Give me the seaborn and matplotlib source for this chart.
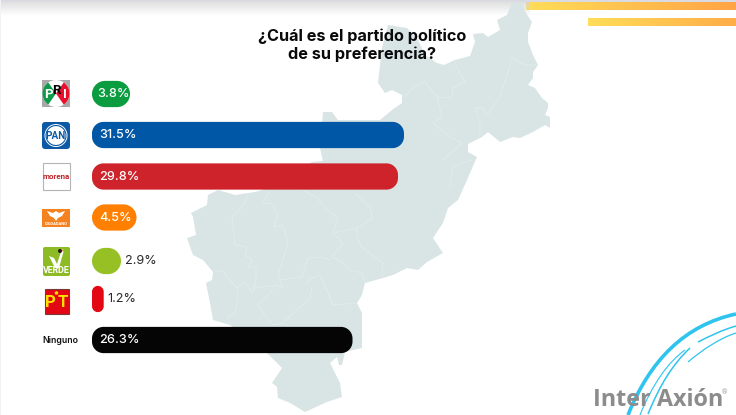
import numpy as np
import pandas as pd
import matplotlib.pyplot as plt
import seaborn as sn
from matplotlib.patches import Circle, FancyBboxPatch, Polygon, PathPatch, Rectangle, RegularPolygon, Wedge
from matplotlib.path import Path
from matplotlib.colors import LinearSegmentedColormap

# values
parties = ["PRI", "PAN", "Morena", "MC", "Verde", "PT", "Ninguno"]
bar_labels = ["3.8%", "31.5%", "29.8%", "4.5%", "2.9%", "1.2%", "26.3%"]
# drawn length of each bar (not always equal to its label)
bar_lengths = [3.8, 31.2, 30.6, 4.45, 2.9, 1.17, 26.05]
bar_colors = ["#0A9C3E", "#0057A5", "#CE232B", "#FF7F00", "#97C024", "#E30613", "#050505"]

title = "¿Cuál es el partido político\nde su preferencia?"

# outline of the state behind the bars, pixels
map_outline = [(512, 3), (522, 3), (526, 13), (532, 22), (528, 33), (528, 42), (533, 55), (538, 65),
               (533, 72), (533, 78), (528, 85), (535, 88), (542, 98), (548, 103), (548, 108), (545, 115),
               (550, 117), (550, 128), (545, 125), (533, 132), (520, 138), (513, 137), (500, 142), (488, 132),
               (482, 137), (468, 144), (468, 152), (477, 157), (467, 180), (458, 200), (448, 208), (443, 223),
               (433, 238), (443, 253), (427, 262), (418, 270), (407, 268), (393, 275), (383, 278), (365, 283),
               (362, 295), (357, 303), (362, 313), (362, 348), (345, 352), (342, 365), (339, 365), (337, 357),
               (330, 363), (340, 383), (342, 397), (327, 402), (305, 412), (290, 403), (278, 398), (277, 387),
               (272, 383), (282, 368), (267, 353), (230, 325), (213, 320), (210, 303), (206, 283), (212, 280),
               (213, 272), (203, 260), (193, 255), (187, 238), (196, 235), (193, 217), (191, 213), (207, 205),
               (208, 195), (218, 190), (235, 195), (255, 192), (262, 190), (312, 162), (323, 161), (320, 148),
               (322, 125), (323, 112), (332, 112), (338, 120), (348, 120), (380, 120), (392, 110), (402, 103),
               (402, 95), (392, 90), (385, 93), (378, 83), (380, 65), (382, 48), (388, 25), (407, 28),
               (418, 40), (425, 55), (437, 63), (444, 65), (455, 60), (470, 56), (475, 42), (473, 34),
               (483, 33), (488, 37), (500, 30), (497, 20), (507, 15)]
map_borders = [
    [(270, 190), (263, 203), (273, 204), (278, 215), (274, 227), (283, 225), (288, 243), (282, 263), (278, 275),
     (283, 288), (276, 285), (255, 288), (252, 293), (245, 282), (237, 288), (227, 277), (223, 271), (213, 271)],
    [(248, 195), (242, 207), (232, 217), (235, 245), (247, 247), (245, 255), (252, 260), (248, 267), (256, 267),
     (256, 280), (253, 292)],
    [(237, 288), (238, 297), (235, 313), (228, 317), (230, 325)],
    [(280, 280), (302, 277), (308, 258), (323, 257), (330, 260)],
    [(303, 190), (317, 198), (330, 213), (338, 217), (333, 233), (343, 243), (332, 257), (342, 262), (350, 270),
     (362, 273), (365, 283)],
    [(355, 193), (370, 208), (373, 218), (357, 228), (357, 237), (362, 247), (383, 263), (382, 278)],
    [(333, 233), (357, 228)],
    [(305, 285), (312, 278), (320, 275), (333, 305), (357, 303)],
    [(312, 287), (310, 298), (283, 323), (273, 325), (257, 305), (270, 293), (273, 287)],
    [(538, 65), (525, 65), (512, 58), (508, 72), (500, 97), (487, 115), (483, 108), (475, 108), (480, 122), (480, 135)],
    [(453, 60), (465, 82), (453, 88), (452, 98), (437, 97), (442, 117), (433, 123), (450, 137), (462, 143), (443, 160)],
    [(437, 97), (425, 82), (413, 87), (405, 97)],
    [(472, 160), (453, 167), (450, 187)],
]

W, H = 736, 415
row_nudge = [0, 0, 0.5, 0.5, 3, 0, 0]


def pill(x0, y0, x1, y1, r):
    # rounded box with real circular corners
    k = 0.5523 * r
    verts = [(x0 + r, y0), (x1 - r, y0),
             (x1 - r + k, y0), (x1, y0 + r - k), (x1, y0 + r), (x1, y1 - r),
             (x1, y1 - r + k), (x1 - r + k, y1), (x1 - r, y1), (x0 + r, y1),
             (x0 + r - k, y1), (x0, y1 - r + k), (x0, y1 - r), (x0, y0 + r),
             (x0, y0 + r - k), (x0 + r - k, y0), (x0 + r, y0), (x0 + r, y0)]
    codes = [Path.MOVETO, Path.LINETO] + [Path.CURVE4] * 3 + [Path.LINETO] + [Path.CURVE4] * 3 + [Path.LINETO] \
        + [Path.CURVE4] * 3 + [Path.LINETO] + [Path.CURVE4] * 3 + [Path.CLOSEPOLY]
    return Path(verts, codes)


sn.set_theme(style="white")
plt.rcParams['font.family'] = ['Roboto', 'DejaVu Sans']
label_font = ["Inter", "DejaVu Sans"]

fig = plt.figure(figsize=(W / 100, H / 100), dpi=100, facecolor="white")

# pixel axes for everything that is not a bar
back = fig.add_axes([0, 0, 1, 1], zorder=0)
front = fig.add_axes([0, 0, 1, 1], zorder=2)
for a in (back, front):
    a.set_xlim(0, W)
    a.set_ylim(H, 0)
    a.axis("off")
front.patch.set_alpha(0)

# map
back.add_patch(Polygon(map_outline, closed=True, fc="#D9E5E5", ec="none"))
for line in map_borders:
    xs, ys = zip(*line)
    back.plot(xs, ys, color="#E4EDED", lw=0.5)

# top shadow and gradient stripes
fade = np.zeros((24, 2, 4))
fade[..., :3] = 0.84
fade[..., 3] = np.linspace(0.75, 0, 24)[:, None]
back.imshow(fade, extent=(0, 530, 16, 2), aspect="auto", zorder=0.5)
back.add_patch(Rectangle((0, 0), W, 2.5, fc="#DADAE2", ec="none"))
back.add_patch(Rectangle((0, 0), 1, H, fc="#F2F2F6", ec="none"))
stripe = LinearSegmentedColormap.from_list("stripe", ["#FFDD58", "#FFA445"])
grad = np.linspace(0, 1, 128)[None, :]
back.imshow(grad, cmap=stripe, extent=(526, W, 10, 2), aspect="auto")
back.imshow(grad * 0.85, cmap=stripe, vmin=0, vmax=1, extent=(588, W, 26, 18), aspect="auto")
back.set_xlim(0, W)
back.set_ylim(H, 0)

# bars, through seaborn
data = pd.DataFrame({"party": parties, "length": bar_lengths})
ax = fig.add_axes([92 / W, 1 - 360.5 / H, 400 / W, 287 / H], zorder=1)
ax.patch.set_alpha(0)
sn.barplot(data=data, x="length", y="party", hue="party", order=parties, palette=bar_colors,
           legend=False, width=0.64, ax=ax, saturation=1)
ax.set_xlim(0, 40)
ax.axis("off")
fig.canvas.draw()

# swap the square bars for pill shapes, same geometry
to_px = ax.transData + front.transData.inverted()
for i, party in enumerate(parties):
    bar = next(p for p in ax.patches if abs(p.get_y() + p.get_height() / 2 - i) < 0.01)
    (x0, y0), (x1, y1) = to_px.transform([(bar.get_x(), bar.get_y()), (bar.get_x() + bar.get_width(), bar.get_y() + bar.get_height())])
    top, bot = min(y0, y1) + row_nudge[i], max(y0, y1) + row_nudge[i]
    r = min(x1 - x0, bot - top) / 2
    if x1 - x0 > 60:
        r = 11.5
    bar.set_visible(False)
    front.add_patch(PathPatch(pill(x0, top, x1, bot, r), fc=bar_colors[i], ec="none"))
    mid = (top + bot) / 2
    if bar_lengths[i] > 3:
        pad = 5 if bar_lengths[i] < 4 else 7
        front.text(x0 + pad, mid + 0.3, bar_labels[i], color="white", fontsize=9.1, fontweight="medium",
                   va="center", ha="left", family=label_font)
    else:
        front.text(x1 + 3.5, mid + 0.3, bar_labels[i], color="#2A2A2A", fontsize=9.1, va="center", ha="left",
                   family=label_font)

front.text(362, 45.5, title, ha="center", va="center", fontsize=11.7, fontweight="bold",
           color="#0A0A0A", linespacing=1.16, family=["Inter", "DejaVu Sans"])

# logos
# PRI
front.add_patch(Rectangle((42, 80), 28, 27, fc="#A8A8A8", ec="none"))
front.add_patch(Circle((56, 93.5), 13.5, fc="white", ec="none"))
front.add_patch(Wedge((56, 93.5), 13.5, 125, 235, fc="#0E9A4A", ec="none"))
front.add_patch(Wedge((56, 93.5), 13.5, -55, 55, fc="#E8112D", ec="none"))
front.text(48, 95, "P", color="white", fontsize=9.5, fontweight="bold", ha="center", va="center")
front.text(56.5, 91, "R", color="black", fontsize=9.5, fontweight="bold", ha="center", va="center")
front.text(65, 95, "I", color="white", fontsize=9.5, fontweight="bold", ha="center", va="center")

# PAN
front.add_patch(FancyBboxPatch((45, 125), 22, 21, boxstyle="round,pad=3,rounding_size=3", fc="#0C5AA6", ec="none"))
front.add_patch(Circle((56, 135.5), 11.5, fc="white", ec="none"))
front.add_patch(Circle((56, 135.5), 10, fc="white", ec="#0C5AA6", lw=0.8))
front.text(56, 136, "PAN", color="#0C5AA6", fontsize=7.2, fontweight="bold", ha="center", va="center",
           family=["Liberation Sans Narrow", "Roboto"])

# morena
front.add_patch(Rectangle((42.5, 163.5), 27, 26.5, fc="white", ec="#B5B5B5", lw=0.8))
front.text(56, 176.5, "morena", color="#C2272D", fontsize=5.8, fontweight="bold", ha="center", va="center")

# Movimiento Ciudadano
front.add_patch(Rectangle((42, 209), 28, 18, fc="#F58220", ec="none"))
front.add_patch(Polygon([(47, 211), (53, 213), (56, 211), (59, 213), (65, 211), (62, 216), (58, 218), (56, 221),
                         (54, 218), (50, 216)], closed=True, fc="white", ec="none"))
front.text(56, 223.6, "CIUDADANO", color="white", fontsize=3, fontweight="bold", ha="center", va="center")

# Verde
front.add_patch(FancyBboxPatch((45, 249), 23, 25, boxstyle="round,pad=2,rounding_size=2", fc="#8DBB25", ec="none"))
front.add_patch(Polygon([(49, 256), (54, 258), (57, 264), (62, 249), (64, 250), (59, 268), (55, 268)],
                        closed=True, fc="white", ec="none"))
front.add_patch(Circle((60, 251), 2, fc="#1A1A1A", ec="none"))
front.add_patch(Circle((63, 250.5), 1, fc="#F58220", ec="none"))
front.text(56.5, 270.5, "VERDE", color="white", fontsize=6.4, fontweight="bold", ha="center", va="center")

# PT
front.add_patch(Rectangle((44.5, 288.5), 24.5, 25, fc="#E30613", ec="#7A3A3A", lw=0.8))
front.text(50.5, 302.5, "P", color="#FFE000", fontsize=12, fontweight="bold", ha="center", va="center")
front.text(63, 302.5, "T", color="#FFE000", fontsize=12, fontweight="bold", ha="center", va="center")
front.add_patch(RegularPolygon((56.5, 293), 5, radius=2, fc="#FFE000", ec="none", orientation=np.pi))

front.text(60.5, 340, "Ninguno", color="#111111", fontsize=6.3, fontweight="semibold", ha="center", va="center",
           family=label_font)

# swoosh, bottom right
swooshes = [
    ([(628, 415), (650, 360), (685, 325), (736, 314)], 2.6),
    ([(648, 414), (660, 385), (672, 365), (690, 348)], 1.1),
    ([(698, 342), (710, 336), (722, 330), (736, 326)], 1.1),
    ([(640, 415), (652, 385), (668, 362), (685, 350)], 0.8),
    ([(688, 362), (702, 350), (720, 338), (736, 333)], 0.9),
]
for pts, lw in swooshes:
    codes = [Path.MOVETO, Path.CURVE4, Path.CURVE4, Path.CURVE4]
    front.add_patch(PathPatch(Path(pts, codes), fc="none", ec="#2EC4EE", lw=lw))

# company logo
front.text(593, 400, "Inter Axión", color="#8C8C8C", fontsize=16.8, fontweight="bold", ha="left", va="center",
           family=["Open Sans", "DejaVu Sans"])
front.text(722, 393, "®", color="#A0A0A0", fontsize=5, ha="left", va="center")

fig.savefig("out.png", dpi=100)
